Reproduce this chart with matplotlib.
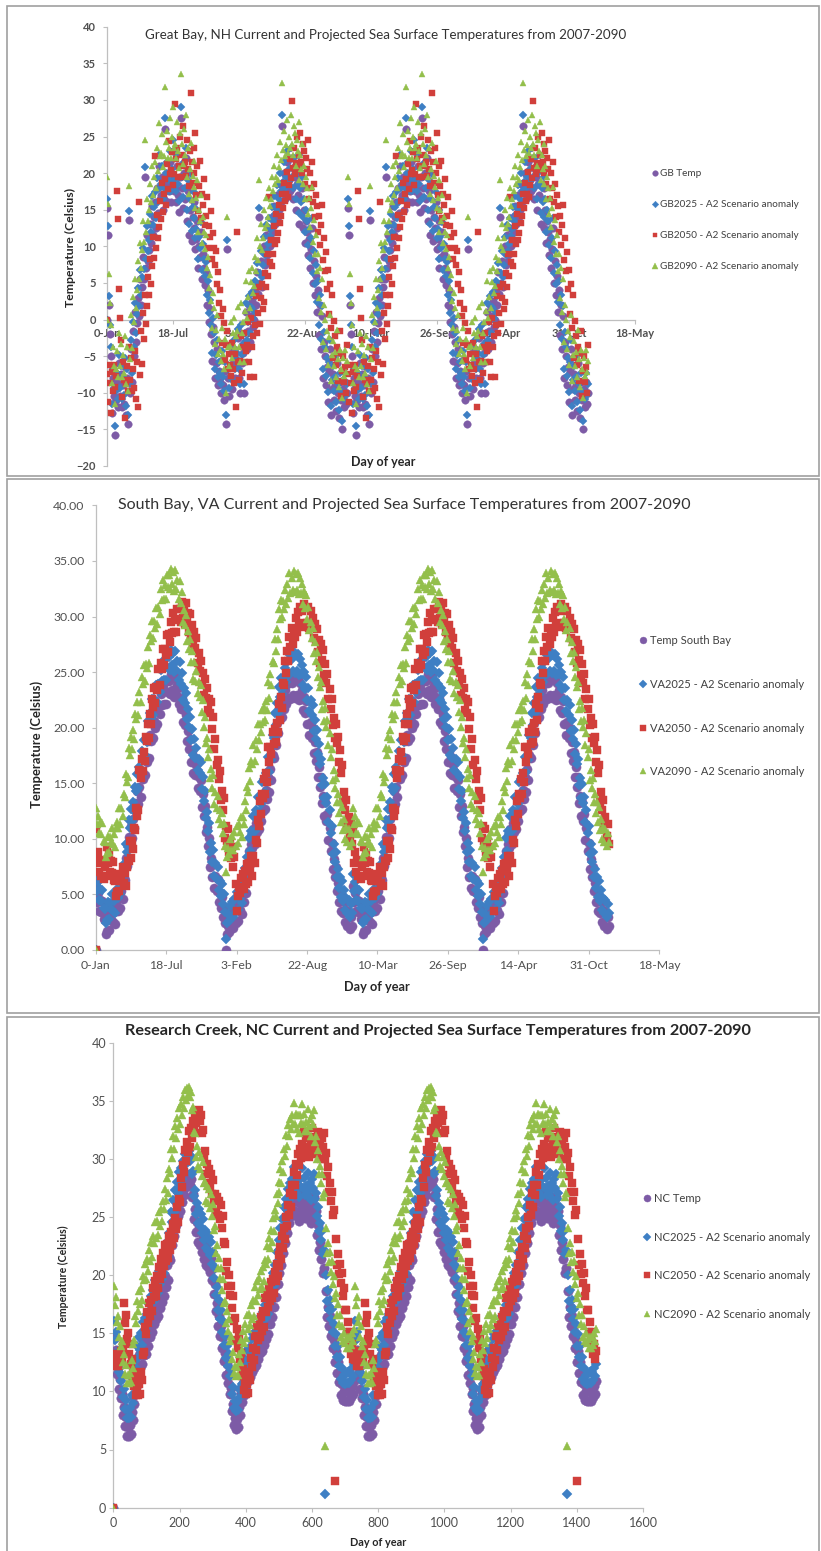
import numpy as np
import matplotlib.pyplot as plt
from matplotlib.patches import Rectangle

plt.rcParams['font.family'] = ['Lato', 'DejaVu Sans']

# one sample every three days; the record repeats after two years
days = np.arange(1, 730, 3)
cycle = 730

gb_temp = np.array([
    15.3, 11.6, 2.0, -2.0, -5.0, -12.8, -8.0, -10.5, -15.7, -11.0,
    -8.5, -12.0, -6.0, -10.5, -7.5, -12.0, -9.0, -11.5, -6.5, -13.0,
    -8.0, -14.3, 13.6, -10.0, -4.0, -8.5, -1.5, -5.0, 1.0, -3.0,
    -0.5, 3.0, 0.5, 5.5, 2.0, 4.5, 8.5, 5.6, 19.5, 7.0,
    11.5, 8.0, 9.5, 13.0, 10.5, 15.5, 11.5, 14.0, 16.0, 12.5,
    18.0, 14.5, 21.0, 16.5, 17.0, 19.5, 15.0, 16.5, 26.0, 18.5,
    20.0, 16.0, 17.5, 21.5, 16.0, 19.0, 23.0, 17.5, 18.0, 16.1,
    21.0, 17.0, 14.7, 19.5, 27.5, 18.0, 15.2, 20.0, 16.5, 22.0,
    13.5, 17.5, 11.6, 15.0, 18.5, 10.7, 14.0, 12.5, 16.0, 9.7,
    11.0, 13.5, 7.0, 10.0, 8.5, 12.0, 5.5, 9.0, 7.0, 4.7,
    6.5, 2.0, 4.0, -0.3, 1.5, -2.0, -5.7, -1.0, -3.0, -8.0,
    -6.0, -4.0, -9.0, -7.0, -8.5, -10.0, -5.5, -9.0, -11.0, -7.0,
    -14.3, 9.7, -8.0, -10.5, -7.8, -4.5, -9.5, -6.0, -4.0, -8.0,
    -6.5, -5.7, -2.5, -8.0, -10.0, -2.0, -6.0, -4.5, -10.0, -3.0,
    1.0, -4.0, -1.5, 2.0, -3.0, 0.5, 2.5, -1.0, 0.0, 4.0,
    2.0, 6.5, 3.5, 14.0, 5.0, 8.0, 4.5, 6.1, 10.0, 7.5,
    11.6, 8.0, 9.0, 12.5, 10.0, 11.0, 14.0, 12.0, 15.5, 13.0,
    14.0, 17.0, 13.5, 15.0, 18.5, 16.0, 26.5, 17.3, 20.0, 16.5,
    18.0, 21.5, 17.0, 19.0, 17.5, 22.0, 18.0, 16.5, 20.5, 19.5,
    15.0, 18.5, 17.0, 21.0, 13.0, 16.5, 14.5, 18.0, 12.5, 15.0,
    10.5, 13.5, 12.0, 8.8, 11.0, 7.0, 9.7, 12.5, 5.0, 8.0,
    3.4, 6.0, 1.0, 4.0, -2.1, 2.0, -4.0, 0.5, -8.0, -3.0,
    -5.0, -9.0, -6.5, -11.2, -7.0, -4.0, -13.0, -9.5, -7.5, -11.0,
    -9.0, -12.5, -6.0, -10.0, -13.5, -8.5, -11.0, -15.0, -9.5, -12.0,
    -8.5, -11.5, -10.0])

va_temp = np.array([
    5.8, 4.3, 5.1, 3.5, 4.5, 3.4, 4.4, 2.8, 2.7, 1.4,
    1.7, 3.3, 1.8, 3.2, 2.7, 4.0, 2.5, 3.4, 2.3, 4.0,
    4.5, 3.5, 5.3, 3.8, 5.3, 4.6, 6.5, 6.3, 8.3, 7.6,
    8.1, 10.2, 9.5, 11.2, 10.1, 11.8, 11.0, 13.2, 12.8, 14.3,
    13.1, 14.7, 13.8, 16.1, 15.4, 17.1, 15.7, 17.2, 16.9, 18.8,
    17.3, 19.3, 18.8, 20.6, 19.1, 20.6, 20.0, 21.8, 20.3, 21.9,
    21.2, 23.0, 22.0, 23.8, 22.1, 23.3, 22.1, 24.2, 23.2, 24.2,
    23.0, 24.8, 23.4, 24.5, 22.8, 24.7, 23.0, 23.8, 22.1, 23.7,
    21.7, 22.7, 20.5, 21.6, 20.2, 21.1, 18.8, 19.7, 18.1, 19.0,
    16.9, 17.9, 15.9, 17.4, 15.7, 16.6, 14.6, 15.6, 14.3, 15.3,
    12.9, 14.0, 12.1, 13.0, 10.6, 11.1, 9.4, 10.1, 7.5, 8.3,
    6.6, 7.7, 5.6, 6.7, 5.3, 6.4, 4.3, 5.1, 3.8, 4.8,
    3.0, 3.9, 2.4, 0.0, 1.4, 2.2, 1.6, 3.0, 2.0, 3.3,
    2.0, 3.6, 2.4, 4.2, 2.6, 4.3, 3.6, 5.0, 3.2, 5.0,
    4.3, 6.4, 5.1, 7.2, 6.7, 8.9, 7.7, 9.5, 9.2, 10.9,
    9.5, 11.4, 10.6, 12.3, 10.9, 12.3, 11.6, 13.6, 12.5, 13.9,
    12.7, 14.4, 13.6, 15.6, 14.2, 16.3, 15.3, 17.5, 17.3, 19.5,
    18.4, 20.4, 19.5, 21.7, 20.8, 22.5, 21.0, 22.4, 21.7, 23.4,
    22.1, 23.9, 22.7, 24.4, 22.6, 24.0, 22.9, 24.6, 22.7, 24.3,
    22.9, 24.4, 22.5, 24.0, 22.6, 23.4, 21.6, 22.8, 21.3, 22.4,
    20.3, 21.4, 19.3, 20.5, 19.1, 20.0, 17.7, 18.7, 17.0, 17.8,
    15.6, 16.5, 14.7, 15.6, 13.2, 13.9, 12.1, 13.3, 11.6, 12.2,
    9.9, 11.0, 8.9, 9.6, 7.3, 8.2, 6.6, 7.5, 5.3, 6.0,
    4.3, 5.3, 3.5, 4.9, 3.3, 4.3, 2.5, 3.6, 2.2, 3.4,
    1.9, 3.0, 2.2])

nc_temp = np.array([
    14.6, 12.9, 13.6, 11.5, 12.0, 10.2, 11.1, 9.4, 9.8, 8.0,
    8.7, 7.0, 7.8, 6.2, 6.9, 6.2, 7.1, 6.3, 8.2, 7.5,
    9.6, 8.9, 11.0, 10.4, 12.3, 11.4, 13.1, 12.0, 13.4, 12.4,
    14.4, 13.1, 14.5, 13.2, 14.9, 13.9, 15.7, 14.7, 16.4, 15.1,
    16.9, 15.8, 17.6, 16.2, 17.7, 16.5, 18.4, 17.2, 18.7, 17.7,
    19.4, 18.2, 19.9, 19.0, 20.9, 19.6, 21.6, 21.3, 23.4, 22.6,
    24.5, 23.4, 25.3, 24.3, 26.0, 25.1, 26.9, 25.5, 27.2, 26.3,
    27.8, 26.9, 28.4, 27.6, 28.6, 28.0, 28.7, 27.8, 28.3, 26.7,
    27.0, 24.8, 25.7, 23.7, 24.6, 22.9, 24.1, 22.6, 23.7, 22.0,
    23.2, 21.4, 22.5, 20.9, 22.2, 20.7, 21.9, 20.3, 21.5, 19.6,
    20.6, 18.4, 19.2, 16.9, 17.6, 15.6, 16.5, 14.8, 15.6, 13.7,
    14.7, 12.6, 13.3, 11.4, 12.4, 10.7, 11.7, 9.8, 10.3, 8.3,
    8.9, 7.1, 7.7, 6.8, 7.6, 6.9, 8.7, 8.0, 9.9, 9.1,
    10.7, 9.7, 11.3, 10.1, 12.1, 10.9, 12.2, 11.2, 12.9, 11.7,
    13.4, 12.0, 13.5, 12.3, 14.0, 12.8, 14.3, 13.3, 14.9, 13.5,
    15.2, 14.0, 15.8, 14.5, 16.0, 14.9, 16.7, 15.8, 17.4, 16.4,
    18.4, 17.3, 19.1, 18.1, 20.0, 19.2, 21.0, 20.2, 22.1, 20.9,
    22.8, 21.9, 23.9, 22.8, 24.6, 23.6, 25.4, 24.5, 25.9, 25.1,
    26.3, 25.5, 27.3, 25.5, 26.4, 25.1, 26.3, 24.7, 26.3, 25.6,
    27.2, 25.5, 26.4, 24.9, 25.7, 24.9, 26.8, 25.3, 25.9, 24.5,
    26.3, 25.5, 26.7, 25.0, 25.5, 23.5, 24.3, 22.2, 22.9, 21.4,
    22.2, 20.2, 20.6, np.nan, 18.6, 16.4, 17.3, 15.6, 16.5, 14.8,
    15.7, 13.7, 14.4, 12.5, 13.5, 11.6, 12.5, 10.8, 11.6, 9.7,
    10.6, 9.3, 10.0, 9.2, 10.0, 9.2, 10.2, 9.2, 10.2, 9.5,
    10.5, 9.8, 10.9])

# monthly A2 anomalies (Jan..Dec) for the 2025, 2050 and 2090 scenarios
gb_anom = [[1.2, 1.2, 1.2, 1.3, 1.4, 1.5, 1.5, 1.5, 1.4, 1.3, 1.2, 1.2],
           [2.2, 2.2, 2.4, 2.8, 3.2, 3.4, 3.5, 3.5, 3.2, 2.8, 2.5, 2.3],
           [4.2, 4.2, 4.6, 5.0, 5.5, 5.8, 6.0, 6.0, 5.6, 5.0, 4.6, 4.3]]
va_anom = [[1.0, 1.0, 1.2, 1.5, 1.8, 2.0, 2.2, 2.2, 2.0, 1.6, 1.3, 1.1],
           [3.5, 3.5, 4.5, 6.0, 6.5, 6.5, 6.5, 6.5, 7.0, 7.0, 6.0, 4.5],
           [7.0, 7.0, 7.5, 8.0, 8.5, 9.0, 9.5, 9.5, 9.0, 8.5, 8.0, 7.5]]
nc_anom = [[1.5, 1.5, 1.6, 1.8, 2.0, 2.0, 2.0, 2.0, 1.6, 1.4, 1.4, 1.5],
           [3.0, 3.5, 4.5, 5.0, 5.0, 5.0, 5.5, 5.5, 5.0, 4.5, 3.5, 3.0],
           [4.5, 4.5, 5.5, 6.5, 7.0, 7.5, 7.5, 7.5, 6.5, 5.5, 5.0, 4.5]]
# anomaly value left where the NC record has an empty cell
nc_blank = [1.2, 2.3, 5.3]
no_blank = [np.nan, np.nan, np.nan]
lag_2050 = 10  # 2050 column sits one month (ten samples) late

date_ticks = np.arange(0, 1601, 200)
date_labels = ['0-Jan', '18-Jul', '3-Feb', '22-Aug', '10-Mar', '26-Sep',
               '14-Apr', '31-Oct', '18-May']

colors = ['#7D5BA6', '#3E7FC4', '#D13F3B', '#93BF4B']
markers = ['o', 'D', 's', '^']

W, H = 821, 1551
fig = plt.figure(figsize=(W / 100, H / 100), dpi=100)


def fx(x):
    return x / W


def fy(y):
    return 1 - y / H


def axes_px(x0, y0, x1, y1):
    return fig.add_axes([fx(x0), fy(y1), (x1 - x0) / W, (y1 - y0) / H])


def draw_series(ax, base, anoms, blanks, names, sizes):
    month = ((days - 1) % 365) * 12 // 365
    series = [base]
    for k, a in enumerate(anoms):
        v = np.where(np.isnan(base), blanks[k], base + np.asarray(a)[month])
        if k == 1:
            v = np.roll(v, lag_2050)
        series.append(v)
    for k, v in enumerate(series):
        x = np.concatenate([[0], days, days + cycle])
        y = np.concatenate([[0], v, v])
        ax.plot(x, y, ls='none', marker=markers[k], ms=sizes[k], color=colors[k],
                mec=colors[k], mew=0.3, label=names[k], zorder=3 + k)


def style_axes(ax, tsize, bold, ypad, xpad):
    for s in ('top', 'right'):
        ax.spines[s].set_visible(False)
    for s in ('left', 'bottom'):
        ax.spines[s].set_color('#BFBFBF')
        ax.spines[s].set_linewidth(0.9)
    ax.tick_params(direction='out', length=3, width=0.8, color='#BFBFBF',
                   labelcolor='#505050', labelsize=tsize)
    ax.tick_params(axis='y', pad=ypad)
    ax.tick_params(axis='x', pad=xpad)
    if bold:
        for t in ax.get_xticklabels() + ax.get_yticklabels():
            t.set_fontweight('bold')


def add_legend(ax, x, y, size, spacing, scale):
    ax.legend(loc='upper left', bbox_to_anchor=(fx(x), fy(y)),
              bbox_transform=fig.transFigure, frameon=False, fontsize=size,
              labelspacing=spacing, handlelength=0.7, handletextpad=0.25,
              borderpad=0, borderaxespad=0, numpoints=1, markerscale=scale,
              labelcolor='#404040')


# panel frames
for top, bottom in [(6, 476), (479, 1013), (1017, 1560)]:
    fig.patches.append(Rectangle((fx(7), fy(bottom)), fx(819) - fx(7), fy(top) - fy(bottom),
                                 transform=fig.transFigure, fill=False,
                                 edgecolor='#A0A0A0', lw=1.2))

# Great Bay
ax1 = axes_px(107, 26.7, 635.3, 466)
draw_series(ax1, gb_temp, gb_anom, no_blank,
            ['GB Temp', 'GB2025 - A2 Scenario anomaly',
             'GB2050 - A2 Scenario anomaly', 'GB2090 - A2 Scenario anomaly'],
            [5.4, 4.4, 4.3, 5.0])
ax1.set_xlim(0, 1600)
ax1.set_ylim(-20, 40)
ax1.set_yticks(np.arange(-20, 41, 5))
ax1.set_xticks(date_ticks)
ax1.set_xticklabels(date_labels)
ax1.spines['bottom'].set_position(('data', 0))
style_axes(ax1, 8.0, True, 5, 3)
add_legend(ax1, 651, 169, 7.2, 2.2, 0.75)
fig.text(fx(386), fy(35), 'Great Bay, NH Current and Projected Sea Surface Temperatures from 2007-2090',
         ha='center', va='center', fontsize=9.6, color='#333333')
fig.text(fx(70), fy(247), 'Temperature (Celsius)', rotation=90, ha='center', va='center',
         fontsize=8.8, fontweight='bold', color='#262626')
fig.text(fx(383), fy(462), 'Day of year', ha='center', va='center',
         fontsize=9.0, fontweight='bold', color='#262626')

# South Bay
ax2 = axes_px(95.8, 505.4, 659, 950)
draw_series(ax2, va_temp, va_anom, no_blank,
            ['Temp South Bay', 'VA2025 - A2 Scenario anomaly',
             'VA2050 - A2 Scenario anomaly', 'VA2090 - A2 Scenario anomaly'],
            [6.6, 5.3, 5.5, 6.0])
ax2.set_xlim(0, 1600)
ax2.set_ylim(0, 40)
ax2.set_yticks(np.arange(0, 41, 5))
ax2.set_yticklabels(['%.2f' % v for v in np.arange(0, 41, 5)])
ax2.set_xticks(date_ticks)
ax2.set_xticklabels(date_labels)
style_axes(ax2, 8.8, False, 5, 4)
add_legend(ax2, 639, 635, 8.0, 2.95, 0.75)
fig.text(fx(404), fy(505), 'South Bay, VA Current and Projected Sea Surface Temperatures from 2007-2090',
         ha='center', va='center', fontsize=11.5, color='#333333')
fig.text(fx(37), fy(744), 'Temperature (Celsius)', rotation=90, ha='center', va='center',
         fontsize=9.4, fontweight='bold', color='#262626')
fig.text(fx(377), fy(987), 'Day of year', ha='center', va='center',
         fontsize=9.2, fontweight='bold', color='#262626')

# Research Creek
ax3 = axes_px(113.3, 1042.8, 643, 1507.6)
draw_series(ax3, nc_temp, nc_anom, nc_blank,
            ['NC Temp', 'NC2025 - A2 Scenario anomaly',
             'NC2050 - A2 Scenario anomaly', 'NC2090 - A2 Scenario anomaly'],
            [6.8, 5.4, 5.5, 6.0])
ax3.set_xlim(0, 1600)
ax3.set_ylim(0, 40)
ax3.set_yticks(np.arange(0, 41, 5))
ax3.set_xticks(date_ticks)
style_axes(ax3, 9.0, False, 2, 4)
add_legend(ax3, 643, 1193, 8.1, 2.45, 0.75)
fig.text(fx(438), fy(1031), 'Research Creek, NC Current and Projected Sea Surface Temperatures from 2007-2090',
         ha='center', va='center', fontsize=11.7, fontweight='bold', color='#262626')
fig.text(fx(63), fy(1277), 'Temperature (Celsius)', rotation=90, ha='center', va='center',
         fontsize=7.6, fontweight='bold', color='#262626')
fig.text(fx(378), fy(1543), 'Day of year', ha='center', va='center',
         fontsize=7.8, fontweight='bold', color='#262626')

fig.savefig('out.png', dpi=100)
